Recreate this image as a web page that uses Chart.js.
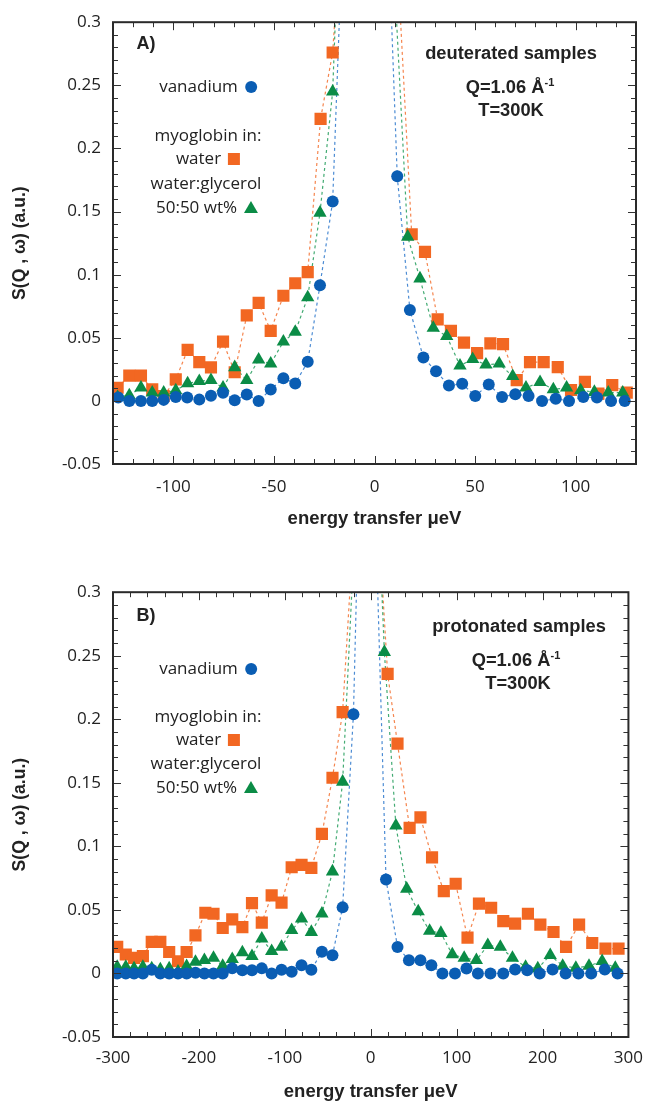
<!DOCTYPE html>
<html><head><meta charset="utf-8">
<script src="https://cdn.jsdelivr.net/npm/chart.js@4.4.1/dist/chart.umd.min.js"></script>
<style>
body{margin:0;background:#fff;width:654px;height:1101px;position:relative;overflow:hidden;font-family:"Open Sans",sans-serif;color:#222;}
canvas{position:absolute;left:0;}
.t{position:absolute;transform:translate(-50%,-50%);white-space:nowrap;font-size:17px;line-height:20px;}
.b{font-family:"Liberation Sans",Arial,sans-serif;font-weight:bold;font-size:18.3px;}
.b sup{font-size:11px;vertical-align:7px;line-height:0;}
.dot{display:inline-block;width:12px;height:12px;border-radius:50%;background:#0a5db3;vertical-align:-1px;margin-left:7px}
.sq{display:inline-block;width:12px;height:12px;background:#f26722;vertical-align:-1px;margin-left:7px}
.tri{display:inline-block;width:0;height:0;border-left:7px solid transparent;border-right:7px solid transparent;border-bottom:12px solid #0b8c46;vertical-align:0px;margin-left:7px}
</style></head>
<body>
<canvas id="c1" width="654" height="540" style="top:0"></canvas>
<canvas id="c2" width="654" height="540" style="top:570px"></canvas>

<div class="t b" style="left:146px;top:43px;font-size:18px">A)</div>
<div class="t" style="left:208px;top:86px">vanadium<span class="dot"></span></div>
<div class="t" style="left:208px;top:135px">myoglobin in:</div>
<div class="t" style="left:208px;top:158px">water<span class="sq"></span></div>
<div class="t" style="left:206px;top:183px">water:glycerol</div>
<div class="t" style="left:207px;top:207px">50:50 wt%<span class="tri"></span></div>
<div class="t b" style="left:511px;top:53px">deuterated samples</div>
<div class="t b" style="left:510px;top:87px">Q=1.06 Å<sup>-1</sup></div>
<div class="t b" style="left:511px;top:110px">T=300K</div>

<div class="t b" style="left:146px;top:615px;font-size:18px">B)</div>
<div class="t" style="left:208px;top:668px">vanadium<span class="dot"></span></div>
<div class="t" style="left:208px;top:716px">myoglobin in:</div>
<div class="t" style="left:208px;top:739px">water<span class="sq"></span></div>
<div class="t" style="left:206px;top:763px">water:glycerol</div>
<div class="t" style="left:207px;top:787px">50:50 wt%<span class="tri"></span></div>
<div class="t b" style="left:519px;top:626px">protonated samples</div>
<div class="t b" style="left:516px;top:660px">Q=1.06 Å<sup>-1</sup></div>
<div class="t b" style="left:518px;top:683px">T=300K</div>

<script>
// ---------- Panel A (deuterated) ----------
const aBlueX = [-127.4,-121.9,-116.1,-110.5,-104.8,-98.8,-93.1,-87.1,-81.3,-75.3,-69.5,-63.5,-57.6,-51.6,-45.3,-39.4,-33.2,-27.1,-20.8, 11.3,17.6,24.3,30.6,37.0,43.6,50.1,56.8,63.4,70.0,76.6,83.3,90.1,96.7,103.8,110.6,117.6,124.4];
const aBlueY = [0.0026,0,0,0,0.0008,0.003,0.0026,0.001,0.004,0.0065,0.0005,0.005,0,0.009,0.018,0.0138,0.031,0.0917,0.158, 0.178,0.072,0.0344,0.0234,0.0122,0.0135,0.0039,0.013,0.0031,0.0052,0.0039,0,0.0016,0,0.0031,0.0026,0,0];
const aOrangeX = [-127.7,-121.9,-116.1,-110.5,-104.8,-98.8,-92.9,-87.1,-81.3,-75.3,-69.5,-63.5,-57.6,-51.6,-45.3,-39.4,-33.2,-26.8,-20.8, 18.5,25.1,31.4,38.0,44.5,51.0,57.6,63.9,70.7,77.3,84.1,91.1,97.7,104.6,111.3,118.2,125.4];
const aOrangeY = [0.0104,0.020,0.020,0.0091,0.0039,0.017,0.0404,0.0307,0.0266,0.0469,0.0227,0.0677,0.0776,0.0555,0.0833,0.0932,0.102,0.2234,0.276, 0.132,0.118,0.0646,0.0555,0.0461,0.0378,0.0456,0.045,0.0164,0.0307,0.0307,0.0268,0.0086,0.0151,0.0057,0.0125,0.0065];
const aGreenX = [-127.7,-121.9,-116.1,-110.5,-104.8,-98.8,-92.9,-87.1,-81.3,-75.3,-69.5,-63.5,-57.6,-51.6,-45.3,-39.4,-33.2,-27.1,-20.8, 16.5,22.6,29.2,35.9,42.5,48.8,55.4,62.0,68.7,75.3,82.3,88.9,95.5,102.5,109.3,116.2,123.4];
const aGreenY = [0.003,0.0044,0.0104,0.0065,0.0065,0.0083,0.0138,0.0156,0.0164,0.0104,0.0266,0.0164,0.0326,0.0294,0.0469,0.0547,0.082,0.149,0.245, 0.130,0.0969,0.0578,0.0513,0.0279,0.033,0.0287,0.0294,0.0195,0.0104,0.0148,0.0091,0.0104,0.0083,0.007,0.0065,0.0065];
// the elastic peak (curves leave the frame at the top)
const aBluePeakX = [-17.5,-14,0,6,8.5];
const aBluePeakY = [0.3,0.6,4,0.6,0.3];
const aOrangePeakX = [-19.8,-15,0,10,13];
const aOrangePeakY = [0.3,0.6,4,0.6,0.3];
const aGreenPeakX = [-19.5,-15,0,8,11];
const aGreenPeakY = [0.3,0.6,4,0.6,0.3];
const aXTicks = [-100,-50,0,50,100];
const aXTickLabels = ["-100","-50","0","50","100"];

// ---------- Panel B (protonated) ----------
const bBlueX = [-295.1,-285.1,-275.5,-265.2,-254.9,-244.9,-234.6,-224.3,-214.3,-204.0,-193.6,-183.0,-172.3,-161.2,-149.4,-138.2,-126.8,-115.3,-103.8,-92.0,-80.5,-69.1,-56.8,-44.5,-32.7,-20.1, 17.8,31.2,44.5,57.9,70.6,83.5,98.1,111.5,124.8,139.4,154.3,168.1,182.2,196.7,211.7,226.9,241.8,256.7,272.5,287.4];
const bBlueY = [0,0,0,0,0.003,0,0,0,0,0.0005,0,0,0,0.004,0.0026,0.0026,0.004,0,0.003,0.0013,0.0065,0.003,0.017,0.0144,0.052,0.204, 0.0739,0.0209,0.0104,0.0104,0.0065,0,0,0.0039,0,0,0,0.0031,0.0026,0,0.0031,0,0,0,0.0031,0];
const bOrangeX = [-295.1,-285.1,-275.5,-265.2,-254.9,-244.9,-234.6,-224.3,-214.3,-204.0,-192.5,-183.0,-172.3,-161.2,-149.4,-138.2,-126.8,-115.3,-103.8,-92.0,-80.5,-69.1,-56.8,-44.5,-32.7, 19.7,31.2,45.3,57.9,71.4,85.1,98.9,112.7,126.0,140.2,154.3,168.1,183.0,197.5,212.8,227.4,242.6,257.9,273.3,288.5];
const bOrangeY = [0.0209,0.0149,0.0122,0.0136,0.0248,0.0248,0.0169,0.0096,0.0169,0.030,0.0478,0.047,0.0358,0.0426,0.0365,0.0553,0.040,0.0614,0.0557,0.0836,0.0854,0.0831,0.1098,0.154,0.2056, 0.2357,0.1808,0.1145,0.1228,0.0914,0.0648,0.0706,0.0282,0.0549,0.0517,0.0412,0.0392,0.047,0.0384,0.0326,0.0209,0.0384,0.024,0.0196,0.0196];
const bGreenX = [-295.1,-285.1,-275.5,-265.2,-254.9,-244.9,-234.6,-224.3,-214.3,-204.0,-193.6,-183.0,-172.3,-161.2,-149.4,-138.2,-126.8,-115.3,-103.8,-92.0,-80.5,-69.1,-56.8,-44.5,-32.7, 15.9,29.3,41.9,55.3,68.6,81.7,95.0,108.8,123.0,136.3,150.9,165.0,180.3,194.5,209.0,223.5,238.8,254.1,269.4,284.7];
const bGreenY = [0.0052,0.0052,0.0039,0.0052,0.0039,0.0031,0.0039,0.0013,0.0057,0.0091,0.0104,0.0122,0.006,0.0112,0.0165,0.0136,0.0274,0.0175,0.0209,0.034,0.0431,0.0326,0.047,0.0802,0.1508, 0.2529,0.1163,0.0666,0.0488,0.0334,0.0318,0.0149,0.0122,0.0104,0.0222,0.0209,0.0122,0.0052,0.0039,0.0144,0.006,0.0044,0.006,0.0096,0.0044];
const bBluePeakX = [-16.6,-13,0,5,8.2];
const bBluePeakY = [0.3,0.6,4,0.6,0.3];
const bOrangePeakX = [-24.3,-18,0,10,14];
const bOrangePeakY = [0.3,0.6,4,0.6,0.3];
const bGreenPeakX = [-22,-17,0,9,13];
const bGreenPeakY = [0.3,0.6,4,0.6,0.3];
const bXTicks = [-300,-200,-100,0,100,200,300];
const bXTickLabels = ["-300","-200","-100","0","100","200","300"];

// shared y axis
const yTicks = [-0.05,0,0.05,0.1,0.15,0.2,0.25,0.3];
const yTickLabels = ["-0.05","0","0.05","0.1","0.15","0.2","0.25","0.3"];

const COL = {blue:'#0a5db3', orange:'#f26722', green:'#0b8c46'};
const LINE = {blue:'rgba(30,110,200,0.8)', orange:'rgba(242,103,34,0.8)', green:'rgba(20,150,80,0.8)'};

function pts(xs, ys){ return xs.map((x,i)=>({x:x, y:ys[i]})); }
function curve(xs, ys, px, py){
  return pts(xs, ys).concat(pts(px, py)).sort((a,b)=>a.x-b.x);
}

Chart.defaults.font.family = '"Open Sans", sans-serif';
Chart.defaults.font.size = 17;
Chart.defaults.color = '#222';

const framePlugin = {
  id:'frame',
  afterDatasetsDraw(chart, args, o){
    const {ctx, chartArea:a, scales:{x, y}} = chart;
    ctx.save();
    ctx.strokeStyle = '#333';
    ctx.lineWidth = 1;
    ctx.beginPath();
    const tx = (v, len)=>{ const p = Math.round(x.getPixelForValue(v))+0.5;
      ctx.moveTo(p, a.bottom); ctx.lineTo(p, a.bottom-len);
      ctx.moveTo(p, a.top); ctx.lineTo(p, a.top+len); };
    const ty = (v, len)=>{ const p = Math.round(y.getPixelForValue(v))+0.5;
      ctx.moveTo(a.left, p); ctx.lineTo(a.left+len, p);
      ctx.moveTo(a.right, p); ctx.lineTo(a.right-len, p); };
    const n = Math.round((o.xMax-o.xMin)/o.xMinor);
    for (let i=0;i<=n;i++){ const v=o.xMin+i*o.xMinor; tx(v, o.xMajor.some(m=>Math.abs(m-v)<1e-6)?8:5); }
    for (let i=-5;i<=30;i++){ ty(i/100, (i%5===0)?8:5); }
    ctx.stroke();
    ctx.lineWidth = 2;
    ctx.strokeStyle = '#2a2a2a';
    ctx.strokeRect(a.left, a.top, a.right-a.left, a.bottom-a.top);
    ctx.restore();
  }
};

function makeChart(id, p){
  const markers = [
    {label:'vanadium', data:pts(p.bx,p.by), pointStyle:'circle', pointRadius:6, backgroundColor:COL.blue, borderWidth:0, showLine:false},
    {label:'water:glycerol', data:pts(p.gx,p.gy), pointStyle:'triangle', pointRadius:7.7, backgroundColor:COL.green, borderWidth:0, showLine:false},
    {label:'water', data:pts(p.ox,p.oy), pointStyle:'rect', pointRadius:8.6, backgroundColor:COL.orange, borderWidth:0, showLine:false},
  ];
  const lines = [
    {data:curve(p.bx,p.by,p.bpx,p.bpy), color:LINE.blue},
    {data:curve(p.gx,p.gy,p.gpx,p.gpy), color:LINE.green},
    {data:curve(p.ox,p.oy,p.opx,p.opy), color:LINE.orange},
  ].map(l=>({data:l.data, showLine:true, pointRadius:0, borderColor:l.color, borderWidth:1.2, borderDash:[3,3], fill:false, tension:0}));
  return new Chart(document.getElementById(id), {
    type:'scatter',
    data:{datasets: markers.concat(lines)},
    options:{
      responsive:false, animation:false,
      layout:{padding:{left:0, right:18, top:p.padTop, bottom:0}},
      plugins:{legend:{display:false}, tooltip:{enabled:false}, frame:{xMin:p.xMin, xMax:p.xMax, xMinor:p.xMinor, xMajor:p.xTicks}},
      scales:{
        x:{type:'linear', min:p.xMin, max:p.xMax,
           grid:{display:false, drawTicks:false}, border:{display:false},
           afterBuildTicks:s=>{ s.ticks = p.xTicks.map(v=>({value:v})); },
           afterFit:s=>{ s.height = p.xAxisH; },
           ticks:{padding:p.xTickPad, maxRotation:0, autoSkip:false, callback:(v,i)=>p.xLabels[i]},
           title:{display:true, text:'energy transfer μeV', font:{family:'"Liberation Sans", Arial, sans-serif', weight:'bold', size:18.5}, padding:{top:0,bottom:p.xTitlePad}}},
        y:{type:'linear', min:-0.05, max:0.3,
           grid:{display:false, drawTicks:false}, border:{display:false},
           afterBuildTicks:s=>{ s.ticks = yTicks.map(v=>({value:v})); },
           afterFit:s=>{ s.width = 113; },
           ticks:{padding:12, autoSkip:false, callback:(v,i)=>yTickLabels[i]},
           title:{display:true, text:'S(Q , ω) (a.u.)', font:{family:'"Liberation Sans", Arial, sans-serif', weight:'bold', size:17.6}, padding:{top:10,bottom:0}}}
      }
    },
    plugins:[framePlugin]
  });
}

makeChart('c1', {bx:aBlueX, by:aBlueY, ox:aOrangeX, oy:aOrangeY, gx:aGreenX, gy:aGreenY,
  bpx:aBluePeakX, bpy:aBluePeakY, opx:aOrangePeakX, opy:aOrangePeakY, gpx:aGreenPeakX, gpy:aGreenPeakY,
  xMin:-130, xMax:130, xMinor:10, xTicks:aXTicks, xLabels:aXTickLabels,
  padTop:17, xAxisH:76, xTickPad:13, xTitlePad:10});

makeChart('c2', {bx:bBlueX, by:bBlueY, ox:bOrangeX, oy:bOrangeY, gx:bGreenX, gy:bGreenY,
  bpx:bBluePeakX, bpy:bBluePeakY, opx:bOrangePeakX, opy:bOrangePeakY, gpx:bGreenPeakX, gpy:bGreenPeakY,
  xMin:-300, xMax:300, xMinor:20, xTicks:bXTicks, xLabels:bXTickLabels,
  padTop:21, xAxisH:73, xTickPad:11, xTitlePad:7});
</script>
</body></html>
